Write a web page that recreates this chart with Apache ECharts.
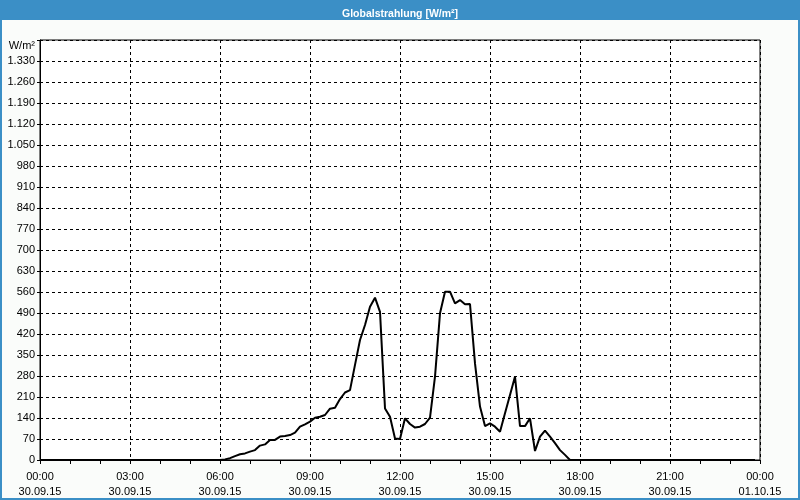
<!DOCTYPE html>
<html><head><meta charset="utf-8">
<script src="https://cdn.jsdelivr.net/npm/echarts@6/dist/echarts.min.js"></script>
<style>html,body{margin:0;padding:0;background:#fafcfa}#c{width:800px;height:500px}</style>
</head><body><div id="c"></div>
<script>
const titleText = 'Globalstrahlung [W/m²]';
const unitLabel = 'W/m²';
const times = ['00:00','06:00','06:10','06:20','06:30','06:40','06:50','07:00','07:10','07:20','07:30','07:40','07:50',
 '08:00','08:10','08:20','08:30','08:40','08:50','09:00','09:10','09:20','09:30','09:40','09:50',
 '10:00','10:10','10:20','10:30','10:40','10:50','11:00','11:10','11:20','11:30','11:40','11:50',
 '12:00','12:10','12:20','12:30','12:40','12:50','13:00','13:10','13:20','13:30','13:40','13:50',
 '14:00','14:10','14:20','14:30','14:40','14:50','15:00','15:10','15:20','15:30','15:40','15:50',
 '16:00','16:10','16:20','16:30','16:40','16:50','17:00','17:10','17:20','17:30','17:40','23:50'];
const values = [0,0,2,6,13,19,22,28,33,48,52,67,67,
 78,80,83,91,111,119,128,141,144,150,171,174,
 203,225,233,317,400,450,511,541,494,172,144,72,
 70,139,120,108,111,120,141,278,489,561,561,522,
 533,519,520,322,178,113,122,111,94,156,217,278,
 113,113,139,30,78,98,78,56,33,17,0,0];
const xTickHours = [0,3,6,9,12,15,18,21,24];
const xTickDates = ['30.09.15','30.09.15','30.09.15','30.09.15','30.09.15','30.09.15','30.09.15','30.09.15','01.10.15'];

const toH = t => { const [h,m] = t.split(':').map(Number); return h + m/60; };
const data = times.map((t,i) => [toH(t), values[i]]);
const fmtNum = v => String(v).replace(/\B(?=(\d{3})+(?!\d))/g, '.');
const pad = n => (n < 10 ? '0' : '') + n;

const chart = echarts.init(document.getElementById('c'), null, {renderer:'canvas'});
chart.setOption({
  animation:false,
  backgroundColor:'#fafcfa',
  title:{text:titleText,left:'center',top:4,textStyle:{color:'#fff',fontFamily:'Liberation Sans',fontWeight:'bold',fontSize:10.5}},
  graphic:[
    {type:'rect',z:-1,shape:{x:0,y:0,width:800,height:20},style:{fill:'#3b8fc6'}},
    {type:'rect',z:-1,shape:{x:1,y:1,width:798,height:498},style:{fill:'none',stroke:'#3b8fc6',lineWidth:2}},
    {type:'text',right:765,top:40,style:{text:unitLabel,fill:'#000',font:'11px "Liberation Sans"',textAlign:'right'}}
  ],
  grid:{left:40,right:40,top:40,bottom:40,show:true,backgroundColor:'#fff',borderColor:'#000',borderWidth:1},
  xAxis:{type:'value',min:0,max:24,interval:3,
    axisLine:{lineStyle:{color:'#000'}},
    axisTick:{length:4,lineStyle:{color:'#000'}},
    minorTick:{show:true,splitNumber:3,length:4,lineStyle:{color:'#000'}},
    splitLine:{show:true,lineStyle:{color:'#000',type:[3,3]}},
    axisLabel:{color:'#000',fontFamily:'Liberation Sans',fontSize:11,lineHeight:15,margin:9,
      formatter:v=>{const i=xTickHours.indexOf(v);return pad(v%24)+':00\n'+xTickDates[i];}}
  },
  yAxis:{type:'value',min:0,max:1400,interval:70,
    axisLine:{show:true,lineStyle:{color:'#000'}},
    axisTick:{show:true,length:3,lineStyle:{color:'#000'}},
    splitLine:{show:true,lineStyle:{color:'#000',type:[3,3]}},
    axisLabel:{color:'#000',fontFamily:'Liberation Sans',fontSize:11,margin:5,
      formatter:v=>v===1400?'':fmtNum(v)}
  },
  series:[{type:'line',data:data,showSymbol:false,lineStyle:{color:'#000',width:2},itemStyle:{color:'#000'}}]
});
</script></body></html>
